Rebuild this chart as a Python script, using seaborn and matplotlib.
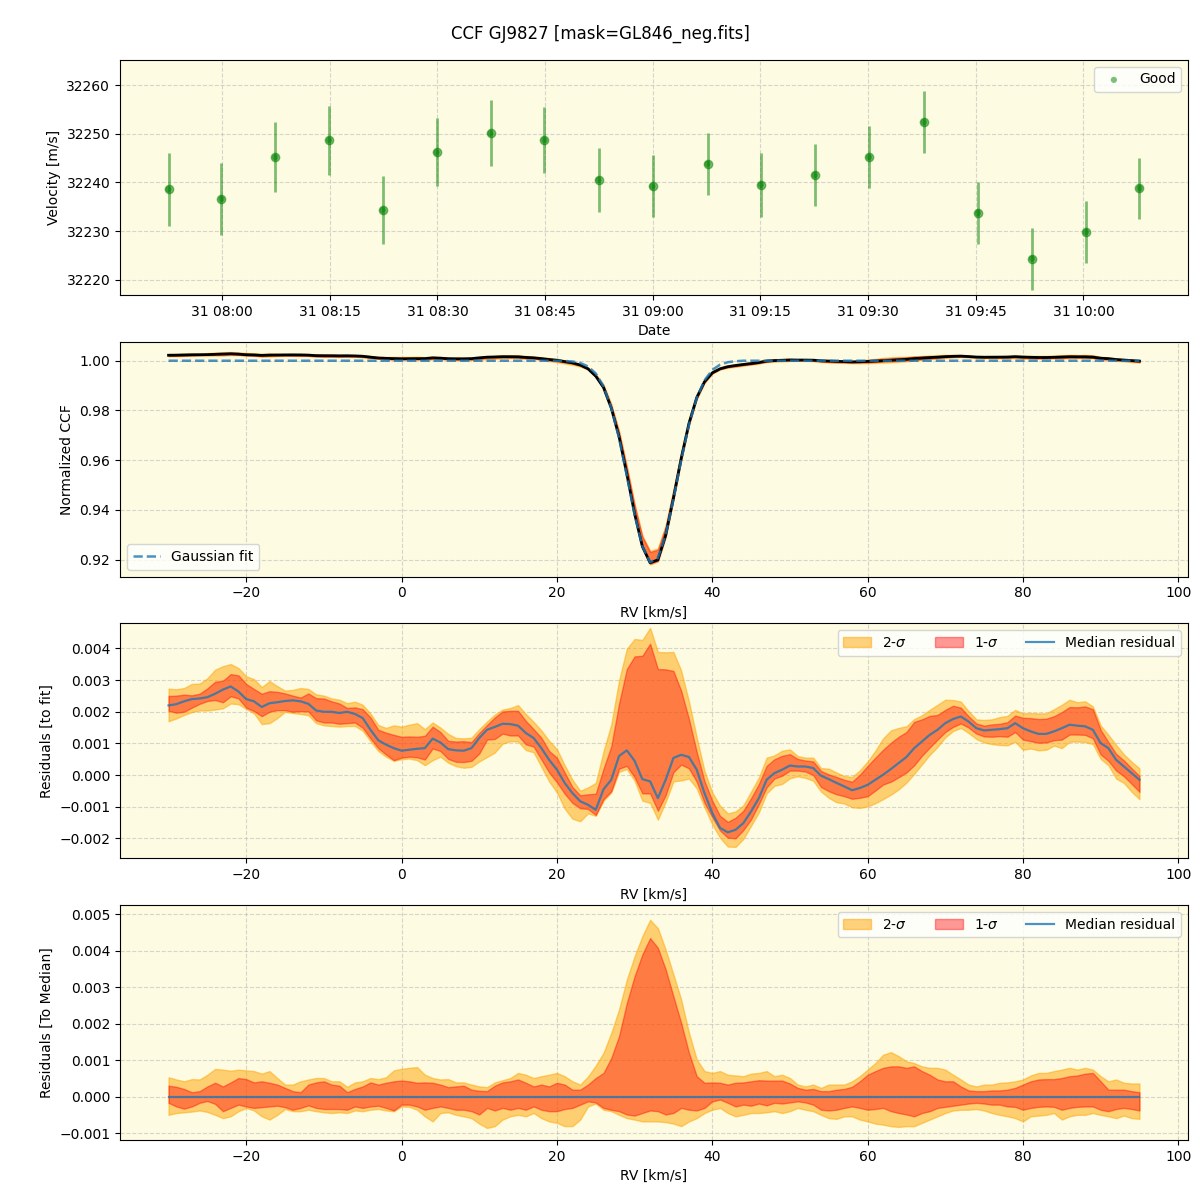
import numpy as np
import pandas as pd
import matplotlib
matplotlib.use('Agg')
import matplotlib.pyplot as plt
import matplotlib.dates as mdates
import seaborn as sns

#%% RV time series
obs_time = ['2023-10-31 07:52:33', '2023-10-31 07:59:55', '2023-10-31 08:07:24',
            '2023-10-31 08:14:54', '2023-10-31 08:22:24', '2023-10-31 08:29:54',
            '2023-10-31 08:37:24', '2023-10-31 08:44:54', '2023-10-31 08:52:27',
            '2023-10-31 08:59:58', '2023-10-31 09:07:38', '2023-10-31 09:15:04',
            '2023-10-31 09:22:35', '2023-10-31 09:30:08', '2023-10-31 09:37:46',
            '2023-10-31 09:45:18', '2023-10-31 09:52:50', '2023-10-31 10:00:21',
            '2023-10-31 10:07:48']
vel = [32238.6, 32236.6, 32245.2, 32248.7, 32234.3, 32246.2, 32250.1, 32248.7,
       32240.5, 32239.2, 32243.8, 32239.5, 32241.5, 32245.2, 32252.4, 32233.7,
       32224.3, 32229.8, 32238.8]
vel_err = [7.5, 7.4, 7.2, 7.1, 7.0, 7.0, 6.8, 6.8, 6.6, 6.4, 6.4, 6.5, 6.4, 6.4,
           6.4, 6.4, 6.4, 6.4, 6.3]

#%% CCF grid, 1 km/s steps from -30 to 95
rv = np.arange(-30, 96, 1.0)

# gaussian fit, flat at 1 outside the line
gauss_fit = ([1.0] * 51 +
             [0.9999, 0.9997, 0.9991, 0.9977, 0.9949, 0.9897, 0.9811, 0.9689,
              0.9537, 0.9381, 0.9254, 0.9189, 0.9206, 0.9299, 0.9442, 0.9600,
              0.9742, 0.9850, 0.9921, 0.9963, 0.9984, 0.9994, 0.9998] +
             [1.0] * 52)

# median residual to the fit
resid_med = [0.00220, 0.00224, 0.00233, 0.00240, 0.00242, 0.00246, 0.00257, 0.00270,
             0.00280, 0.00264, 0.00240, 0.00233, 0.00215, 0.00227, 0.00230, 0.00234,
             0.00236, 0.00233, 0.00225, 0.00204, 0.00200, 0.00200, 0.00196, 0.00200,
             0.00193, 0.00180, 0.00143, 0.00110, 0.00096, 0.00085, 0.00077, 0.00080,
             0.00083, 0.00085, 0.00115, 0.00103, 0.00082, 0.00078, 0.00077, 0.00085,
             0.00117, 0.00143, 0.00152, 0.00162, 0.00161, 0.00156, 0.00133, 0.00117,
             0.00085, 0.00048, 0.00017, -0.00025, -0.00057, -0.00083, -0.00094, -0.00110,
             -0.00045, -0.00015, 0.00060, 0.00078, 0.00045, -0.00013, -0.00020, -0.00073,
             -0.00015, 0.00054, 0.00064, 0.00057, 0.00017, -0.00057, -0.00120, -0.00167,
             -0.00181, -0.00173, -0.00152, -0.00115, -0.00073, -0.00015, 0.00006, 0.00017,
             0.00030, 0.00027, 0.00027, 0.00022, -0.00002, -0.00013, -0.00025, -0.00036,
             -0.00048, -0.00041, -0.00031, -0.00015, 0.00001, 0.00019, 0.00038, 0.00057,
             0.00085, 0.00106, 0.00127, 0.00143, 0.00164, 0.00177, 0.00185, 0.00169,
             0.00148, 0.00141, 0.00143, 0.00145, 0.00148, 0.00164, 0.00148, 0.00138,
             0.00130, 0.00130, 0.00138, 0.00148, 0.00159, 0.00156, 0.00154, 0.00143,
             0.00101, 0.00085, 0.00048, 0.00027, 0.00006, -0.00015]

# spread around the median (bottom panel)
hi_2sig = [0.00053, 0.00047, 0.00042, 0.00048, 0.00047, 0.00060, 0.00076, 0.00074,
           0.00071, 0.00074, 0.00072, 0.00070, 0.00063, 0.00070, 0.00051, 0.00033,
           0.00033, 0.00042, 0.00047, 0.00051, 0.00051, 0.00042, 0.00042, 0.00027,
           0.00039, 0.00042, 0.00051, 0.00048, 0.00053, 0.00072, 0.00076, 0.00079,
           0.00081, 0.00060, 0.00051, 0.00047, 0.00048, 0.00039, 0.00039, 0.00033,
           0.00028, 0.00026, 0.00039, 0.00045, 0.00051, 0.00065, 0.00060, 0.00051,
           0.00056, 0.00060, 0.00065, 0.00056, 0.00042, 0.00033, 0.00055, 0.00085,
           0.00120, 0.00175, 0.00239, 0.00321, 0.00385, 0.00440, 0.00485, 0.00462,
           0.00403, 0.00335, 0.00266, 0.00175, 0.00102, 0.00070, 0.00065, 0.00070,
           0.00060, 0.00058, 0.00056, 0.00063, 0.00065, 0.00070, 0.00056, 0.00060,
           0.00051, 0.00033, 0.00028, 0.00033, 0.00024, 0.00033, 0.00033, 0.00033,
           0.00042, 0.00056, 0.00074, 0.00092, 0.00115, 0.00122, 0.00111, 0.00097,
           0.00092, 0.00083, 0.00079, 0.00079, 0.00074, 0.00060, 0.00047, 0.00033,
           0.00028, 0.00033, 0.00033, 0.00038, 0.00039, 0.00042, 0.00047, 0.00058,
           0.00065, 0.00065, 0.00070, 0.00074, 0.00079, 0.00074, 0.00079, 0.00074,
           0.00056, 0.00042, 0.00047, 0.00038, 0.00036, 0.00036]
hi_1sig = [0.00030, 0.00027, 0.00021, 0.00012, 0.00015, 0.00028, 0.00038, 0.00028,
           0.00039, 0.00051, 0.00048, 0.00039, 0.00042, 0.00038, 0.00033, 0.00024,
           0.00015, 0.00012, 0.00033, 0.00039, 0.00042, 0.00033, 0.00030, 0.00012,
           0.00021, 0.00028, 0.00039, 0.00033, 0.00038, 0.00042, 0.00044, 0.00042,
           0.00038, 0.00039, 0.00038, 0.00033, 0.00026, 0.00028, 0.00030, 0.00019,
           0.00016, 0.00015, 0.00030, 0.00039, 0.00042, 0.00047, 0.00038, 0.00028,
           0.00033, 0.00028, 0.00038, 0.00033, 0.00019, 0.00019, 0.00033, 0.00051,
           0.00065, 0.00106, 0.00166, 0.00257, 0.00330, 0.00390, 0.00435, 0.00408,
           0.00349, 0.00275, 0.00202, 0.00120, 0.00056, 0.00038, 0.00039, 0.00038,
           0.00033, 0.00038, 0.00039, 0.00042, 0.00045, 0.00044, 0.00044, 0.00044,
           0.00036, 0.00024, 0.00019, 0.00021, 0.00015, 0.00015, 0.00019, 0.00021,
           0.00027, 0.00042, 0.00060, 0.00070, 0.00079, 0.00083, 0.00083, 0.00079,
           0.00083, 0.00070, 0.00060, 0.00047, 0.00042, 0.00042, 0.00028, 0.00017,
           0.00015, 0.00015, 0.00017, 0.00017, 0.00019, 0.00024, 0.00033, 0.00042,
           0.00047, 0.00048, 0.00048, 0.00051, 0.00056, 0.00058, 0.00063, 0.00065,
           0.00042, 0.00019, 0.00019, 0.00019, 0.00015, 0.00012]
lo_1sig = [-0.00017, -0.00027, -0.00033, -0.00027, -0.00017, -0.00012, -0.00020, -0.00040,
           -0.00031, -0.00022, -0.00027, -0.00031, -0.00029, -0.00027, -0.00025, -0.00029,
           -0.00036, -0.00031, -0.00024, -0.00031, -0.00034, -0.00034, -0.00034, -0.00036,
           -0.00027, -0.00031, -0.00027, -0.00025, -0.00031, -0.00038, -0.00022, -0.00022,
           -0.00027, -0.00036, -0.00031, -0.00027, -0.00031, -0.00036, -0.00036, -0.00040,
           -0.00049, -0.00031, -0.00038, -0.00031, -0.00036, -0.00031, -0.00036, -0.00027,
           -0.00036, -0.00040, -0.00040, -0.00034, -0.00031, -0.00022, -0.00013, -0.00016,
           -0.00031, -0.00036, -0.00040, -0.00049, -0.00052, -0.00045, -0.00038, -0.00040,
           -0.00049, -0.00045, -0.00031, -0.00036, -0.00038, -0.00031, -0.00013, -0.00008,
           -0.00017, -0.00027, -0.00022, -0.00025, -0.00019, -0.00024, -0.00017, -0.00019,
           -0.00016, -0.00013, -0.00016, -0.00022, -0.00036, -0.00038, -0.00036, -0.00031,
           -0.00027, -0.00031, -0.00036, -0.00034, -0.00031, -0.00040, -0.00045, -0.00049,
           -0.00054, -0.00045, -0.00040, -0.00031, -0.00028, -0.00025, -0.00022, -0.00019,
           -0.00017, -0.00019, -0.00022, -0.00022, -0.00027, -0.00028, -0.00036, -0.00031,
           -0.00028, -0.00027, -0.00028, -0.00036, -0.00031, -0.00028, -0.00027, -0.00027,
           -0.00036, -0.00040, -0.00034, -0.00031, -0.00034, -0.00038]
lo_2sig = [-0.00050, -0.00045, -0.00043, -0.00041, -0.00038, -0.00042, -0.00050, -0.00059,
           -0.00054, -0.00040, -0.00031, -0.00038, -0.00054, -0.00063, -0.00050, -0.00034,
           -0.00040, -0.00040, -0.00036, -0.00040, -0.00043, -0.00045, -0.00043, -0.00045,
           -0.00038, -0.00040, -0.00036, -0.00034, -0.00038, -0.00040, -0.00027, -0.00028,
           -0.00036, -0.00054, -0.00068, -0.00045, -0.00043, -0.00050, -0.00054, -0.00059,
           -0.00074, -0.00086, -0.00081, -0.00063, -0.00054, -0.00050, -0.00054, -0.00045,
           -0.00059, -0.00068, -0.00072, -0.00081, -0.00081, -0.00063, -0.00027, -0.00019,
           -0.00036, -0.00040, -0.00050, -0.00059, -0.00063, -0.00068, -0.00068, -0.00068,
           -0.00070, -0.00074, -0.00081, -0.00068, -0.00059, -0.00045, -0.00036, -0.00031,
           -0.00045, -0.00054, -0.00050, -0.00045, -0.00045, -0.00043, -0.00040, -0.00045,
           -0.00040, -0.00031, -0.00036, -0.00040, -0.00050, -0.00059, -0.00061, -0.00054,
           -0.00054, -0.00063, -0.00068, -0.00074, -0.00077, -0.00081, -0.00083, -0.00081,
           -0.00081, -0.00072, -0.00063, -0.00054, -0.00045, -0.00038, -0.00036, -0.00036,
           -0.00034, -0.00038, -0.00045, -0.00050, -0.00054, -0.00059, -0.00068, -0.00054,
           -0.00052, -0.00050, -0.00045, -0.00063, -0.00054, -0.00050, -0.00050, -0.00045,
           -0.00050, -0.00054, -0.00059, -0.00052, -0.00059, -0.00061]

#%% tables
ts = pd.DataFrame({'time': pd.to_datetime(obs_time), 'vel': vel, 'err': vel_err})

ccf = pd.DataFrame({'rv': rv, 'fit': gauss_fit, 'med': resid_med,
                    'hi2': hi_2sig, 'hi1': hi_1sig, 'lo1': lo_1sig, 'lo2': lo_2sig})
ccf['ccf'] = ccf['fit'] + ccf['med']

bg = '#fdfbe2'
c_2s = 'orange'
c_1s = 'red'
c_line = 'tab:blue'

fig, axs = plt.subplots(4, 1, figsize=(12, 12), dpi=100)
fig.subplots_adjust(left=0.1, right=0.99, top=0.95, bottom=0.05, hspace=0.2)
fig.suptitle('CCF GJ9827 [mask=GL846_neg.fits]', y=0.979)

for ax in axs:
    ax.set_facecolor(bg)
    ax.grid(True, linestyle='--', alpha=0.5)
    ax.set_axisbelow(True)

#%% top: velocities
ax = axs[0]
ax.errorbar(ts['time'], ts['vel'], yerr=ts['err'], fmt='o', color='green',
            alpha=0.5, ms=6, lw=2)
sns.scatterplot(data=ts, x='time', y='vel', color='green', alpha=0.5, s=20,
                edgecolor='none', label='Good', ax=ax)
ax.xaxis.set_major_locator(mdates.MinuteLocator(byminute=[0, 15, 30, 45]))
ax.xaxis.set_major_formatter(mdates.DateFormatter('%d %H:%M'))
ax.set_ylim(32216.9, 32265.2)
ax.set_xlabel('Date')
ax.set_ylabel('Velocity [m/s]')
ax.legend(loc='upper right')

#%% CCF with fit
ax = axs[1]
ax.fill_between(ccf['rv'], ccf['ccf'] + ccf['lo2'], ccf['ccf'] + ccf['hi2'],
                color=c_2s, alpha=0.5)
ax.fill_between(ccf['rv'], ccf['ccf'] + ccf['lo1'], ccf['ccf'] + ccf['hi1'],
                color=c_1s, alpha=0.4)
sns.lineplot(data=ccf, x='rv', y='ccf', color='black', lw=2, ax=ax)
sns.lineplot(data=ccf, x='rv', y='fit', color=c_line, alpha=0.8, lw=1.8,
             linestyle='--', label='Gaussian fit', ax=ax)
ax.set_ylim(0.91317, 1.00764)
ax.set_xlabel('RV [km/s]')
ax.set_ylabel('Normalized CCF')
ax.legend(loc='lower left')

#%% residuals to fit
ax = axs[2]
ax.fill_between(ccf['rv'], ccf['med'] + ccf['lo2'], ccf['med'] + ccf['hi2'],
                color=c_2s, alpha=0.5, label=r'2-$\sigma$')
ax.fill_between(ccf['rv'], ccf['med'] + ccf['lo1'], ccf['med'] + ccf['hi1'],
                color=c_1s, alpha=0.4, label=r'1-$\sigma$')
sns.lineplot(data=ccf, x='rv', y='med', color=c_line, alpha=0.8, lw=1.6,
             label='Median residual', ax=ax)
ax.set_ylim(-0.00263, 0.00479)
ax.set_xlabel('RV [km/s]')
ax.set_ylabel('Residuals [to fit]')
ax.legend(loc='upper right', ncol=3)

#%% residuals to median
ax = axs[3]
ax.fill_between(ccf['rv'], ccf['lo2'], ccf['hi2'], color=c_2s, alpha=0.5,
                label=r'2-$\sigma$')
ax.fill_between(ccf['rv'], ccf['lo1'], ccf['hi1'], color=c_1s, alpha=0.4,
                label=r'1-$\sigma$')
sns.lineplot(x=ccf['rv'], y=ccf['med'] - ccf['med'], color=c_line, alpha=0.8,
             lw=1.6, label='Median residual', ax=ax)
ax.set_ylim(-0.00119, 0.00525)
ax.set_xlabel('RV [km/s]')
ax.set_ylabel('Residuals [To Median]')
ax.legend(loc='upper right', ncol=3)

for ax in axs[1:]:
    ax.set_xlim(-36.25, 101.25)

fig.savefig('out.png')
